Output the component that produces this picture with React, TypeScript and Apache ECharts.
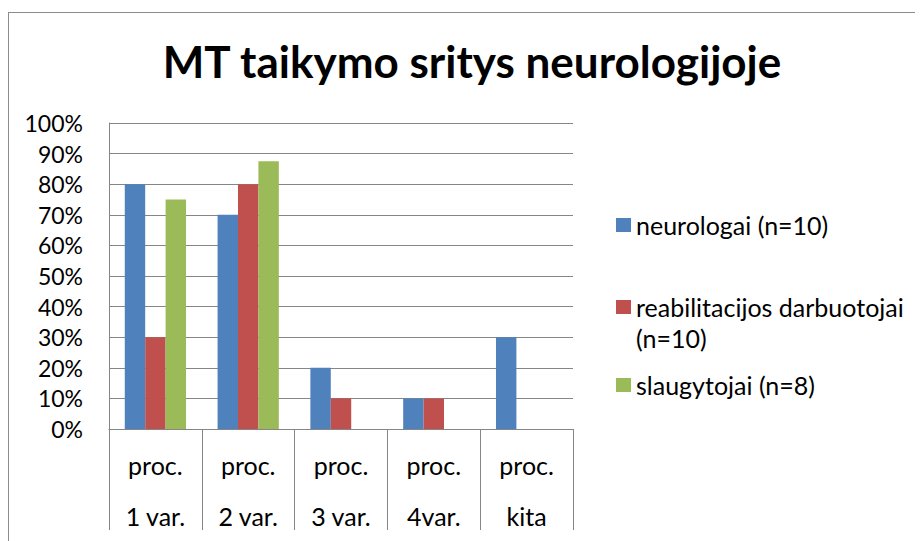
import React, { useEffect, useRef } from "react";
import * as echarts from "echarts";

const categories = ["proc.\n1 var.", "proc.\n2 var.", "proc.\n3 var.", "proc.\n4var.", "proc.\nkita"];
const seriesNames = ["neurologai (n=10)", "reabilitacijos darbuotojai (n=10)", "slaugytojai (n=8)"];
const neurologai = [80, 70, 20, 10, 30];
const reabilitacijos = [30, 80, 10, 10, 0];
const slaugytojai = [75, 87.5, 0, 0, 0];
const colors = ["#4F81BD", "#C0504D", "#9BBB59"];

const FONT = "Lato, 'Open Sans', sans-serif";
const GRAY = "#868686";

export default function App() {
  const ref = useRef<HTMLDivElement>(null);
  useEffect(() => {
    if (!ref.current) return;
    const chart = echarts.init(ref.current, null, { renderer: "svg" });
    const rich = { a: { fontFamily: FONT, fontSize: 25, color: "#000", lineHeight: 31 } };
    const legendText = { fontFamily: FONT, fontSize: 25, color: "#000", lineHeight: 31, rich };
    chart.setOption({
      animation: false,
      textStyle: { fontFamily: FONT },
      title: {
        text: "MT taikymo sritys neurologijoje",
        left: 459,
        top: 26,
        textAlign: "center",
        textStyle: { fontFamily: FONT, fontWeight: "bold", fontSize: 44, color: "#000" },
      },
      graphic: [
        { type: "line", shape: { x1: 0, y1: 4.5, x2: 915, y2: 4.5 }, style: { stroke: "#8c8c8c", lineWidth: 1 } },
        { type: "line", shape: { x1: 0.5, y1: 4.5, x2: 0.5, y2: 533 }, style: { stroke: "#8c8c8c", lineWidth: 1 } },
      ],
      legend: [
        {
          data: [seriesNames[0]], orient: "vertical", left: 608, top: 201.5, padding: 0,
          itemWidth: 15, itemHeight: 14, icon: "rect", textStyle: legendText,
          formatter: (n: string) => "{a|" + n + "}",
        },
        {
          data: [{ name: seriesNames[1], textStyle: { padding: [31, 0, 0, 0] } }],
          orient: "vertical", left: 608, top: 252.5, padding: 0,
          itemWidth: 15, itemHeight: 14, icon: "rect", textStyle: legendText,
          formatter: () => "{a|reabilitacijos darbuotojai}\n{a|(n=10)}",
        },
        {
          data: [seriesNames[2]], orient: "vertical", left: 608, top: 361.5, padding: 0,
          itemWidth: 15, itemHeight: 14, icon: "rect", textStyle: legendText,
          formatter: (n: string) => "{a|" + n + "}",
        },
      ],
      grid: { left: 101, top: 115, width: 464, height: 309, containLabel: false },
      xAxis: {
        type: "category",
        data: categories,
        axisLine: { show: true, lineStyle: { color: GRAY, width: 1 } },
        axisTick: { show: true, interval: 0, length: 101, lineStyle: { color: GRAY, width: 1 } },
        axisLabel: {
          interval: 0, margin: 10, lineHeight: 51, fontSize: 25, fontFamily: FONT, color: "#000",
        },
        splitLine: { show: false },
      },
      yAxis: {
        type: "value",
        min: 0,
        max: 100,
        interval: 10,
        axisLine: { show: true, lineStyle: { color: GRAY, width: 1 } },
        axisTick: { show: false },
        axisLabel: { formatter: "{value}%", margin: 26, fontSize: 23, fontFamily: FONT, color: "#000" },
        splitLine: { show: true, lineStyle: { color: GRAY, width: 1 } },
      },
      series: [
        { name: seriesNames[0], type: "bar", data: neurologai, itemStyle: { color: colors[0] }, barGap: "0%", barCategoryGap: "34%" },
        { name: seriesNames[1], type: "bar", data: reabilitacijos, itemStyle: { color: colors[1] }, barGap: "0%", barCategoryGap: "34%" },
        { name: seriesNames[2], type: "bar", data: slaugytojai, itemStyle: { color: colors[2] }, barGap: "0%", barCategoryGap: "34%" },
      ],
    });
    return () => chart.dispose();
  }, []);
  return <div ref={ref} style={{ width: 915, height: 533 }} />;
}
